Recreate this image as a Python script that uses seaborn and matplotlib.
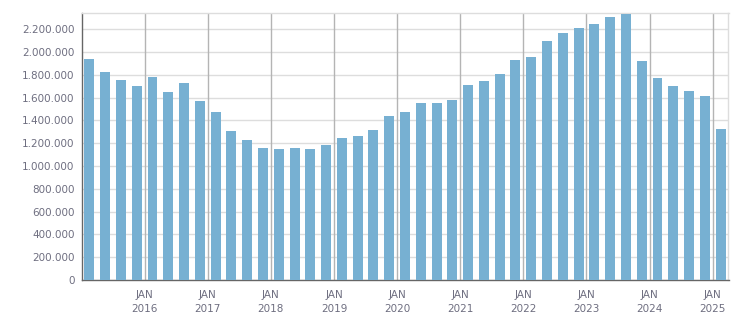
import matplotlib
matplotlib.use("Agg")
import matplotlib.pyplot as plt
import matplotlib.ticker as mticker
import seaborn as sns
import pandas as pd

# Quarterly data, Q1 2015 .. Q1 2025
years = [2015]*4 + [2016]*4 + [2017]*4 + [2018]*4 + [2019]*4 + [2020]*4 + \
        [2021]*4 + [2022]*4 + [2023]*4 + [2024]*4 + [2025]
quarters = [1, 2, 3, 4]*10 + [1]
values = [1939000, 1825000, 1755000, 1702000,
          1781000, 1650000, 1729000, 1571000,
          1474000, 1308000, 1229000, 1158000,
          1150000, 1158000, 1150000, 1185000,
          1246000, 1264000, 1316000, 1439000,
          1474000, 1553000, 1553000, 1580000,
          1711000, 1746000, 1808000, 1931000,
          1957000, 2097000, 2168000, 2212000,
          2247000, 2308000, 2334000, 1922000,
          1773000, 1702000, 1659000, 1615000,
          1325000]
label_years = [2016, 2017, 2018, 2019, 2020, 2021, 2022, 2023, 2024, 2025]

pos = [y + (q - 1) / 4 + 0.125 for y, q in zip(years, quarters)]
df = pd.DataFrame({"pos": pos, "value": values})

sns.set_style("white")
plt.rcParams['font.family'] = ['DejaVu Sans']

W, H = 751, 313
fig = plt.figure(figsize=(W / 100, H / 100), dpi=100)
ax = fig.add_axes([81.5 / W, 1 - 280 / H, (728.5 - 81.5) / W, (280 - 13.3) / H])

bar_color = "#77b0d2"
sns.barplot(data=df, x="pos", y="value", native_scale=True, width=0.63,
            color=bar_color, saturation=1, errorbar=None, ax=ax, zorder=3,
            edgecolor="none")

ax.set_xlim(2015.0, 2025.25)
ax.set_ylim(0, 2340000)

text_color = "#6e6e80"
# y axis
ax.yaxis.set_major_locator(mticker.MultipleLocator(200000))
ax.yaxis.set_major_formatter(mticker.FuncFormatter(lambda v, p: f"{int(v):,}".replace(",", ".")))
ax.grid(axis="y", color="#dddddd", linewidth=1.0, zorder=0)

# x axis
ax.set_xticks(label_years)
ax.set_xticklabels([f"JAN\n{y}" for y in label_years])
ax.set_xticks([2015 + i * 0.25 for i in range(42) if i % 4 != 0], minor=True)
for y in label_years:
    ax.axvline(y, color="#b4b4b4", linewidth=1.0, zorder=1)

ax.tick_params(axis="both", which="both", direction="out", color="#666666",
               length=4, width=1, labelcolor=text_color, labelsize=7.5)
ax.tick_params(axis="y", pad=1)
ax.tick_params(axis="x", pad=3)
for lbl in ax.get_xticklabels():
    lbl.set_linespacing(1.5)

ax.set_xlabel("")
ax.set_ylabel("")

for side in ["left", "bottom"]:
    ax.spines[side].set_color("#666666")
    ax.spines[side].set_linewidth(1.0)
for side in ["top", "right"]:
    ax.spines[side].set_color("#dddddd")
    ax.spines[side].set_linewidth(1.0)
    ax.spines[side].set_visible(True)

fig.savefig("out.png", dpi=100)
